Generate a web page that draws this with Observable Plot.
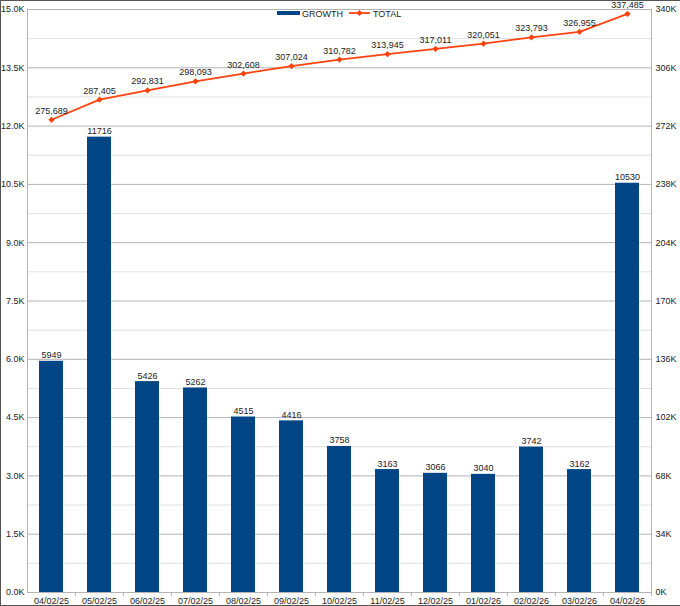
<!DOCTYPE html>
<html><head><meta charset="utf-8">
<script src="https://cdn.jsdelivr.net/npm/d3@7"></script>
<script src="https://cdn.jsdelivr.net/npm/@observablehq/plot@0.6"></script>
<style>body{margin:0;background:#fff} svg{display:block}</style>
</head><body><div id="chart"></div>
<script>
const dates = ["04/02/25","05/02/25","06/02/25","07/02/25","08/02/25","09/02/25","10/02/25","11/02/25","12/02/25","01/02/26","02/02/26","03/02/26","04/02/26"];
const growth = [5949, 11716, 5426, 5262, 4515, 4416, 3758, 3163, 3066, 3040, 3742, 3162, 10530];
const total = [275689, 287405, 292831, 298093, 302608, 307024, 310782, 313945, 317011, 320051, 323793, 326955, 337485];
const leftMax = 15000, rightMax = 340000;
const leftTicks = d3.range(0, 15001, 1500);
const minorTicks = d3.range(750, 15000, 1500);
const seriesNames = ["GROWTH", "TOTAL"];
const barColor = "#004586", lineColor = "#ff420e";

const data = dates.map((d, i) => ({date: d, growth: growth[i], total: total[i], totalScaled: total[i] * leftMax / rightMax}));
const font = "'Liberation Sans', Arial, sans-serif";

const plot = Plot.plot({
  width: 680, height: 606, marginLeft: 27, marginRight: 29, marginTop: 9, marginBottom: 14,
  style: {fontFamily: font, fontSize: "9px", color: "#222", background: "#fff"},
  x: {type: "band", domain: dates, paddingInner: 0.5, paddingOuter: 0.25, label: null},
  y: {domain: [0, leftMax], label: null},
  marks: [
    Plot.ruleY(minorTicks, {stroke: "#e0e0e0"}),
    Plot.ruleY(leftTicks, {stroke: "#b3b3b3"}),
    Plot.barY(data, {x: "date", y: "growth", fill: barColor}),
    Plot.text(data, {x: "date", y: "growth", text: d => String(d.growth), lineAnchor: "bottom", dy: -3, fill: "#222"}),
    Plot.line(data, {x: "date", y: "totalScaled", stroke: lineColor, strokeWidth: 1.8}),
    Plot.dot(data, {x: "date", y: "totalScaled", symbol: "diamond2", r: 2.8, fill: lineColor}),
    Plot.text(data, {x: "date", y: "totalScaled", text: d => d3.format(",")(d.total), lineAnchor: "bottom", dy: -6, fill: "#222"}),
    Plot.frame({stroke: "#b3b3b3"}),
    Plot.axisY({ticks: leftTicks, anchor: "left", tickSize: 0, tickPadding: 3, label: null, tickFormat: d => (d / 1000).toFixed(1) + "K"}),
    Plot.axisY({ticks: leftTicks, anchor: "right", tickSize: 0, tickPadding: 4, label: null, tickFormat: d => Math.round(d * rightMax / leftMax / 1000) + "K"}),
    Plot.axisX({tickSize: 0, tickPadding: 5, label: null}),
    Plot.axisX({tickSize: 4, dx: 24, label: null, tickFormat: () => "", stroke: "#b3b3b3"})
  ]
});
document.getElementById("chart").appendChild(plot);

const svg = d3.select(plot);
const lg = svg.append("g").attr("font-family", font).attr("font-size", 9).attr("fill", "#222").attr("text-anchor", "start");
lg.append("rect").attr("x", 277).attr("y", 11).attr("width", 23).attr("height", 4).attr("fill", barColor);
lg.append("text").attr("x", 302).attr("y", 16.5).text(seriesNames[0]);
lg.append("line").attr("x1", 349).attr("x2", 370).attr("y1", 13).attr("y2", 13).attr("stroke", lineColor).attr("stroke-width", 1.8);
lg.append("path").attr("d", "M359.5,10 L362.5,13 L359.5,16 L356.5,13 Z").attr("fill", lineColor);
lg.append("text").attr("x", 373).attr("y", 16.5).text(seriesNames[1]);

const bd = svg.append("g").attr("stroke", "#555").attr("stroke-width", 1);
bd.append("line").attr("x1", 0).attr("x2", 680).attr("y1", 0.5).attr("y2", 0.5);
bd.append("line").attr("x1", 0.5).attr("x2", 0.5).attr("y1", 0).attr("y2", 606);
bd.append("line").attr("x1", 0).attr("x2", 680).attr("y1", 605.5).attr("y2", 605.5);
</script>
</body></html>
